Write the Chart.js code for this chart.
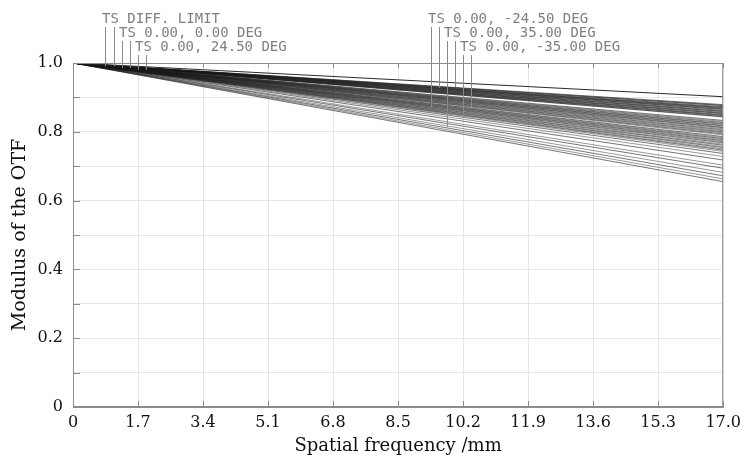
<!DOCTYPE html>
<html>
<head>
<meta charset="utf-8">
<script src="https://cdn.jsdelivr.net/npm/chart.js@4.4.1/dist/chart.umd.min.js"></script>
<style>
html, body { margin: 0; padding: 0; background: #fff; }
</style>
</head>
<body>
<canvas id="mtfChart" width="747" height="456"></canvas>
<script>
// spatial frequency of the start and end point of every curve
const frequencies = [0, 17];
const startValue = 1.0;

// MTF at 17 /mm
const diffLimitEnd = 0.902;
const tangentialEnds = [0.879, 0.876, 0.873, 0.870, 0.868, 0.865, 0.862, 0.859, 0.856, 0.853, 0.850, 0.847, 0.844,
    0.833, 0.827, 0.822, 0.817, 0.812, 0.806, 0.800, 0.794, 0.786, 0.780, 0.774, 0.768, 0.761, 0.754, 0.747,
    0.737, 0.718, 0.694, 0.672, 0.655];
const sagittalEnds = [0.877, 0.871, 0.866, 0.860, 0.854, 0.848, 0.843,
    0.830, 0.824, 0.819, 0.814, 0.809, 0.803, 0.797, 0.791, 0.783, 0.777, 0.771, 0.764, 0.757, 0.750, 0.743,
    0.728, 0.703, 0.682, 0.663];

const xTicks = [0, 1.7, 3.4, 5.1, 6.8, 8.5, 10.2, 11.9, 13.6, 15.3, 17];
const xTickLabels = ['0', '1.7', '3.4', '5.1', '6.8', '8.5', '10.2', '11.9', '13.6', '15.3', '17.0'];
const yTickLabels = ['0', '', '0.2', '', '0.4', '', '0.6', '', '0.8', '', '1.0'];

const fieldLabels = ['TS DIFF. LIMIT', 'TS 0.00, 0.00 DEG', 'TS 0.00, 24.50 DEG',
    'TS 0.00, -24.50 DEG', 'TS 0.00, 35.00 DEG', 'TS 0.00, -35.00 DEG'];

function curve(endValue) {
    return [
        { x: frequencies[0], y: startValue },
        { x: frequencies[1], y: endValue }
    ];
}

const datasets = [];
datasets.push({ data: curve(diffLimitEnd), borderColor: '#2a2a2a', borderWidth: 1 });
tangentialEnds.forEach(v => {
    datasets.push({ data: curve(v), borderColor: 'rgba(25,25,25,0.75)', borderWidth: 0.8 });
});
sagittalEnds.forEach(v => {
    datasets.push({ data: curve(v), borderColor: 'rgba(40,40,40,0.6)', borderWidth: 0.8 });
});

// leader lines: x (in /mm) where they touch the curves, y (MTF) where they stop
const leaderOpts = {
    rows: [23, 37, 51],
    lines: [
        [[0.83, 0.99], [1.08, 0.99]],
        [[1.27, 0.985], [1.49, 0.985]],
        [[1.70, 0.98], [1.90, 0.98]],
        [[9.35, 0.869], [9.57, 0.927]],
        [[9.78, 0.814], [10.0, 0.930]],
        [[10.19, 0.846], [10.41, 0.872]]
    ]
};

const frameAndTicks = {
    id: 'frameAndTicks',
    afterDatasetsDraw(chart) {
        const { ctx, chartArea: a, scales: { x, y } } = chart;
        ctx.save();
        ctx.strokeStyle = '#8c8c8c';
        ctx.lineWidth = 1;
        ctx.strokeRect(a.left + 0.5, a.top + 0.5, a.right - a.left - 1, a.bottom - a.top - 1);
        ctx.beginPath();
        y.ticks.forEach(t => {
            const py = Math.round(y.getPixelForValue(t.value)) + 0.5;
            ctx.moveTo(a.left, py);
            ctx.lineTo(a.left + 7, py);
        });
        x.ticks.forEach(t => {
            const px = Math.round(x.getPixelForValue(t.value)) + 0.5;
            ctx.moveTo(px, a.bottom);
            ctx.lineTo(px, a.bottom - 6);
            ctx.moveTo(px, a.top);
            ctx.lineTo(px, a.top + 5);
        });
        ctx.stroke();
        ctx.restore();
    }
};

const fieldLegend = {
    id: 'fieldLegend',
    afterDraw(chart) {
        const { ctx, scales: { x, y } } = chart;
        ctx.save();
        ctx.font = '14px "DejaVu Sans Mono"';
        ctx.fillStyle = '#808080';
        ctx.strokeStyle = '#8a8a8a';
        ctx.lineWidth = 1;
        ctx.textBaseline = 'alphabetic';
        fieldLabels.forEach((text, i) => {
            const row = leaderOpts.rows[i % 3];
            const pair = leaderOpts.lines[i];
            const x0 = Math.round(x.getPixelForValue(pair[0][0]));
            ctx.fillText(text, x0 - 3, row);
            ctx.beginPath();
            pair.forEach(p => {
                const px = Math.round(x.getPixelForValue(p[0])) + 0.5;
                ctx.moveTo(px, row + 4);
                ctx.lineTo(px, y.getPixelForValue(p[1]));
            });
            ctx.stroke();
        });
        ctx.restore();
    }
};

new Chart(document.getElementById('mtfChart'), {
    type: 'scatter',
    data: { datasets: datasets },
    options: {
        responsive: false,
        animation: false,
        showLine: true,
        layout: { padding: { top: 63, right: 22, left: 0, bottom: 0 } },
        elements: { point: { radius: 0 }, line: { tension: 0 } },
        plugins: { legend: { display: false }, tooltip: { enabled: false } },
        scales: {
            x: {
                type: 'linear',
                min: 0,
                max: 17,
                afterBuildTicks: scale => { scale.ticks = xTicks.map(v => ({ value: v })); },
                afterFit: scale => { scale.height = 49; },
                grid: { color: '#e6e6e6', drawTicks: false },
                border: { color: '#8c8c8c' },
                ticks: {
                    autoSkip: false,
                    maxRotation: 0,
                    padding: 6,
                    color: '#111',
                    font: { family: 'DejaVu Serif', size: 16 },
                    callback: (v, i) => xTickLabels[i]
                },
                title: {
                    display: true,
                    text: 'Spatial frequency /mm',
                    color: '#111',
                    font: { family: 'DejaVu Serif', size: 18 },
                    padding: { top: 0, bottom: -1 }
                }
            },
            y: {
                min: 0,
                max: 1,
                afterFit: scale => { scale.width = 73; },
                grid: { color: '#e6e6e6', drawTicks: false },
                border: { color: '#8c8c8c' },
                ticks: {
                    stepSize: 0.1,
                    padding: 10,
                    color: '#111',
                    font: { family: 'DejaVu Serif', size: 16 },
                    callback: (v, i) => yTickLabels[i]
                },
                title: {
                    display: true,
                    text: 'Modulus of the OTF',
                    color: '#111',
                    font: { family: 'DejaVu Serif', size: 19 },
                    padding: { top: 9, bottom: 0 }
                }
            }
        }
    },
    plugins: [frameAndTicks, fieldLegend]
});
</script>
</body>
</html>
